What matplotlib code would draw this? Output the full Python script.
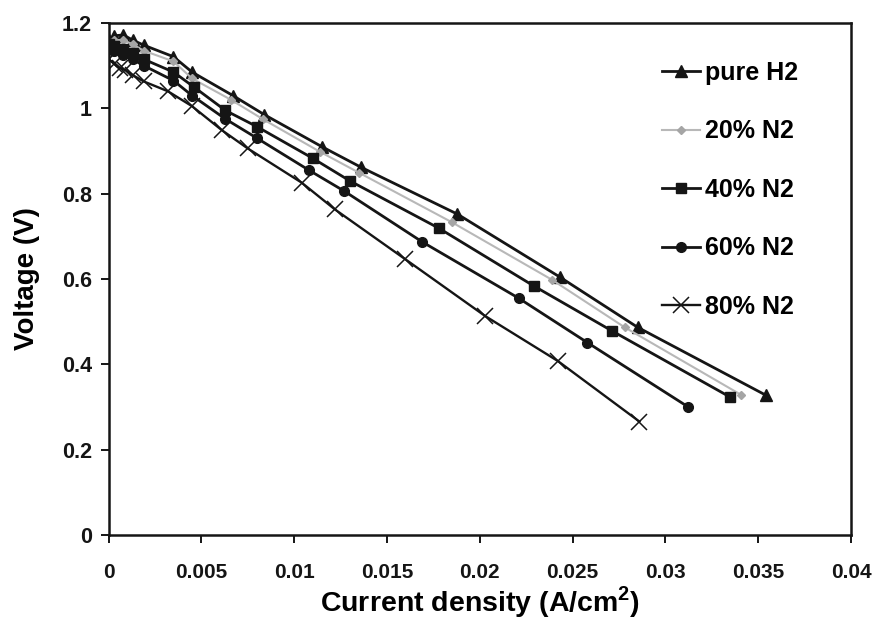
import matplotlib
matplotlib.use("Agg")
import matplotlib.pyplot as plt

# Polarisation curves: cell voltage vs current density for H2/N2 feed mixtures
labels = ["pure H2", "20% N2", "40% N2", "60% N2", "80% N2"]

x_h2 = [0, 0.0003, 0.0008, 0.0013, 0.0019, 0.0035, 0.0045, 0.0067, 0.0084, 0.0115, 0.0136, 0.0188, 0.0243, 0.0285, 0.0354]
y_h2 = [1.16, 1.17, 1.172, 1.16, 1.148, 1.121, 1.085, 1.03, 0.985, 0.91, 0.862, 0.752, 0.605, 0.487, 0.328]

x_n20 = [0, 0.0003, 0.0008, 0.0013, 0.0019, 0.0035, 0.0045, 0.0066, 0.0083, 0.0114, 0.0135, 0.0185, 0.0239, 0.0278, 0.0341]
y_n20 = [1.155, 1.16, 1.16, 1.15, 1.135, 1.11, 1.07, 1.02, 0.975, 0.898, 0.849, 0.733, 0.598, 0.487, 0.328]

x_n40 = [0, 0.0003, 0.0008, 0.0013, 0.0019, 0.0035, 0.0046, 0.0063, 0.0080, 0.0110, 0.0130, 0.0178, 0.0229, 0.0271, 0.0335]
y_n40 = [1.15, 1.145, 1.14, 1.13, 1.115, 1.085, 1.05, 0.995, 0.957, 0.883, 0.83, 0.719, 0.584, 0.479, 0.323]

x_n60 = [0, 0.0003, 0.0008, 0.0013, 0.0019, 0.0035, 0.0045, 0.0063, 0.0080, 0.0108, 0.0127, 0.0169, 0.0221, 0.0258, 0.0312]
y_n60 = [1.14, 1.135, 1.125, 1.115, 1.10, 1.065, 1.03, 0.975, 0.93, 0.855, 0.806, 0.687, 0.555, 0.451, 0.301]

x_n80 = [0, 0.0003, 0.0006, 0.0009, 0.0013, 0.0019, 0.0032, 0.0045, 0.0061, 0.0075, 0.0104, 0.0122, 0.0160, 0.0203, 0.0242, 0.0286]
y_n80 = [1.115, 1.105, 1.095, 1.09, 1.078, 1.063, 1.04, 1.005, 0.949, 0.906, 0.826, 0.763, 0.646, 0.513, 0.408, 0.266]

x_ticks = [0, 0.005, 0.01, 0.015, 0.02, 0.025, 0.03, 0.035, 0.04]
x_tick_labels = ["0", "0.005", "0.01", "0.015", "0.02", "0.025", "0.03", "0.035", "0.04"]
y_ticks = [0, 0.2, 0.4, 0.6, 0.8, 1.0, 1.2]
y_tick_labels = ["0", "0.2", "0.4", "0.6", "0.8", "1", "1.2"]

plt.rcParams["font.family"] = ["Liberation Sans", "DejaVu Sans"]
plt.rcParams["mathtext.fontset"] = "custom"
plt.rcParams["mathtext.bf"] = "Liberation Sans:bold"
plt.rcParams["mathtext.rm"] = "Liberation Sans"

fig = plt.figure(figsize=(8.78, 6.25), dpi=100)
ax = fig.add_axes([0.1236, 0.144, 0.8456, 0.8192])

ink = "#151515"
series = [
    (x_h2, y_h2, dict(color=ink, lw=2.0, marker="^", ms=8, mfc=ink, mec=ink)),
    (x_n20, y_n20, dict(color="#b8b8b8", lw=1.5, marker="D", ms=4, mfc="#a5a5a5", mec="#a5a5a5")),
    (x_n40, y_n40, dict(color=ink, lw=2.0, marker="s", ms=7.5, mfc=ink, mec=ink)),
    (x_n60, y_n60, dict(color=ink, lw=2.0, marker="o", ms=7, mfc=ink, mec=ink)),
    (x_n80, y_n80, dict(color=ink, lw=1.7, marker="x", ms=11, mew=1.1, mec=ink)),
]
for (xs, ys, style), lab in zip(series, labels):
    ax.plot(xs, ys, label=lab, **style)

ax.set_xlim(0, 0.04)
ax.set_ylim(0, 1.2)
ax.set_xticks(x_ticks)
ax.set_xticklabels(x_tick_labels, fontsize=15, fontweight="bold")
ax.set_yticks(y_ticks)
ax.set_yticklabels(y_tick_labels, fontsize=15.5, fontweight="bold")
ax.tick_params(direction="out", length=6, width=1.4, colors=ink)
ax.tick_params(axis="x", pad=14)
ax.tick_params(axis="y", pad=6)

for sp in ax.spines.values():
    sp.set_linewidth(1.8)
    sp.set_color(ink)

ax.set_xlabel(r"Current density (A/cm$^\mathbf{2}$)", fontsize=20.5, fontweight="bold", labelpad=2)
ax.set_ylabel("Voltage (V)", fontsize=20, fontweight="bold", labelpad=16)

leg = ax.legend(loc="upper left", bbox_to_anchor=(0.745, 0.926), frameon=False,
                prop=dict(size=18, weight="bold"), labelspacing=1.38,
                handlelength=1.52, handletextpad=0.2, borderaxespad=0, borderpad=0)

fig.savefig("out.png", dpi=100, facecolor="white")
